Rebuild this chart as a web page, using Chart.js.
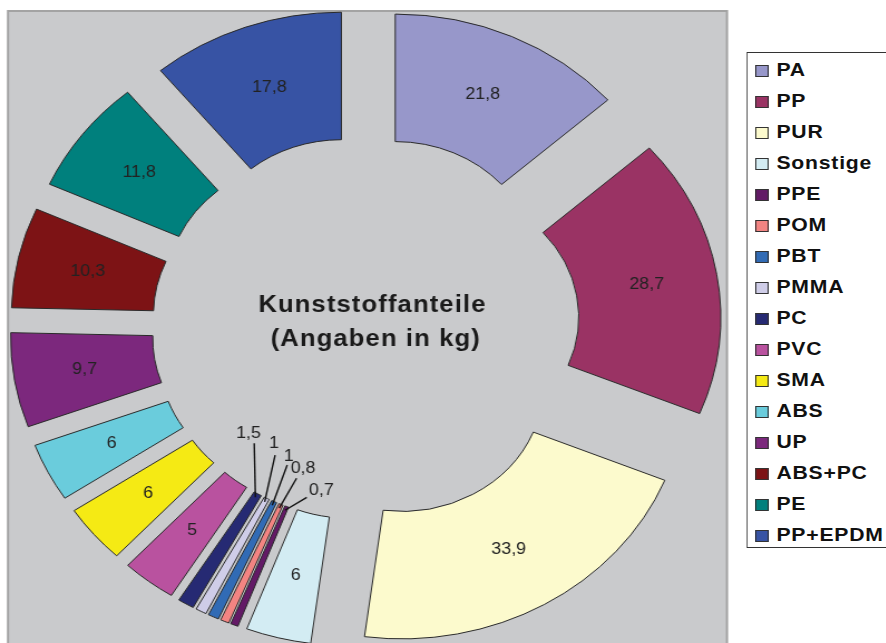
<!DOCTYPE html>
<html>
<head>
<meta charset="utf-8">
<title>Kunststoffanteile</title>
<script src="https://cdn.jsdelivr.net/npm/chart.js"></script>
<style>
  html, body { margin: 0; padding: 0; overflow: hidden; background: #fff; }
  /* the reference is a horizontally stretched picture, so the whole stage is stretched too */
  #stage { position: absolute; left: 0; top: 0; width: 796px; height: 700px; overflow: hidden;
           transform: scaleX(1.114); transform-origin: 0 0; }
  #myChart { position: absolute; left: 0; top: 0; }
  #legend { position: absolute; left: 670px; top: 52px; width: 170px; height: 496px;
            box-sizing: border-box; border: 1px solid #333; background: #fff;
            font: bold 19px "Liberation Sans", Arial, sans-serif; letter-spacing: 0.7px; color: #111; }
  .item { position: absolute; left: 7px; height: 22px; line-height: 22px; white-space: nowrap; }
  .swatch { display: inline-block; width: 12px; height: 12px; box-sizing: border-box;
            border: 1px solid #333; margin-right: 7px; vertical-align: -1px; }
</style>
</head>
<body>
<div id="stage">
  <canvas id="myChart" width="796" height="700"></canvas>
  <div id="legend"></div>
</div>
<script>
const labels = ["PA", "PP", "PUR", "Sonstige", "PPE", "POM", "PBT", "PMMA", "PC", "PVC", "SMA", "ABS", "UP", "ABS+PC", "PE", "PP+EPDM"];
const values = [21.8, 28.7, 33.9, 6, 0.7, 0.8, 1, 1, 1.5, 5, 6, 6, 9.7, 10.3, 11.8, 17.8];
const colors = ["#9797CA", "#9A3364", "#FCFACD", "#D3ECF3", "#631A66", "#F28482", "#316BB5", "#CFCDE8",
                "#262A73", "#B9529F", "#F5EA14", "#6ACCDC", "#7C287D", "#7D1315", "#00807D", "#3753A4"];
const titleLines = ["Kunststoffanteile", "(Angaben in kg)"];

const EXPLODE = 64.6;
// leader lines for the thin slices: [line top dx, line top dy, text dx, text dy]
const callouts = {
  "PC":   [-3.1, -50.5, -5.1, -9.8],
  "PMMA": [7.5, -43.2, -1.1, -11.7],
  "PBT":  [11.7, -36.6, 1.3, -8.3],
  "POM":  [14, -26.1, 5.8, -9.3],
  "PPE":  [18, -9.1, 13.1, -7.3]
};

// legend
const legend = document.getElementById("legend");
labels.forEach((name, i) => {
  const row = document.createElement("div");
  row.className = "item";
  row.style.top = (18 + 31 * i - 12) + "px";
  row.innerHTML = '<span class="swatch" style="background:' + colors[i] + '"></span>' + name;
  legend.appendChild(row);
});

const plotArea = {
  id: "plotArea",
  beforeDraw(chart) {
    const ctx = chart.ctx;
    ctx.save();
    ctx.fillStyle = "#c9cacc";
    ctx.fillRect(7.2, 11, 645.4, 700);
    ctx.strokeStyle = "#a3a3a3";
    ctx.lineWidth = 2;
    ctx.strokeRect(7.2, 11, 645.4, 700);
    ctx.restore();
  }
};

// push every slice outward along its middle angle, like Excel's exploded doughnut
const explode = {
  id: "explode",
  afterDatasetsUpdate(chart) {
    chart.getDatasetMeta(0).data.forEach(arc => {
      const mid = (arc.startAngle + arc.endAngle) / 2;
      arc.x += Math.cos(mid) * EXPLODE;
      arc.y += Math.sin(mid) * EXPLODE;
    });
  }
};

const sliceLabels = {
  id: "sliceLabels",
  afterDatasetsDraw(chart) {
    const ctx = chart.ctx;
    ctx.save();
    ctx.font = '16px "Liberation Sans", Arial, sans-serif';
    ctx.fillStyle = "#222";
    ctx.textAlign = "center";
    ctx.textBaseline = "middle";
    chart.getDatasetMeta(0).data.forEach((arc, i) => {
      const text = String(values[i]).replace(".", ",");
      const c = callouts[labels[i]];
      if (c) {
        const mid = (arc.startAngle + arc.endAngle) / 2;
        const ax = arc.x + Math.cos(mid) * arc.innerRadius;
        const ay = arc.y + Math.sin(mid) * arc.innerRadius;
        ctx.strokeStyle = "#111";
        ctx.lineWidth = 1.4;
        ctx.beginPath();
        ctx.moveTo(ax + Math.cos(mid) * 4, ay + Math.sin(mid) * 4);
        ctx.lineTo(ax + c[0], ay + c[1]);
        ctx.stroke();
        ctx.fillText(text, ax + c[0] + c[2], ay + c[1] + c[3]);
      } else {
        const p = arc.getCenterPoint();
        ctx.fillText(text, p.x, p.y);
      }
    });
    ctx.restore();
  }
};

const centerTitle = {
  id: "centerTitle",
  afterDraw(chart) {
    const ctx = chart.ctx;
    const a = chart.chartArea;
    const cx = (a.left + a.right) / 2;
    const cy = (a.top + a.bottom) / 2;
    ctx.save();
    ctx.font = 'bold 23px "Liberation Sans", Arial, sans-serif';
    ctx.letterSpacing = "1px";
    ctx.fillStyle = "#1a1a1a";
    ctx.textAlign = "center";
    ctx.textBaseline = "alphabetic";
    ctx.fillText(titleLines[0], cx + 6, cy - 16);
    ctx.fillText(titleLines[1], cx + 9, cy + 18);
    ctx.restore();
  }
};

new Chart(document.getElementById("myChart"), {
  type: "doughnut",
  data: {
    labels: labels,
    datasets: [{
      data: values,
      backgroundColor: colors,
      borderColor: "#2a2a2a",
      borderWidth: 1,
      borderJoinStyle: "miter"
    }]
  },
  options: {
    responsive: false,
    animation: false,
    events: [],
    radius: 255,
    cutout: "50%",
    layout: { padding: { left: 0, right: 139.4, top: 0, bottom: 44 } },
    plugins: {
      legend: { display: false },
      tooltip: { enabled: false }
    }
  },
  plugins: [plotArea, explode, sliceLabels, centerTitle]
});
</script>
</body>
</html>
